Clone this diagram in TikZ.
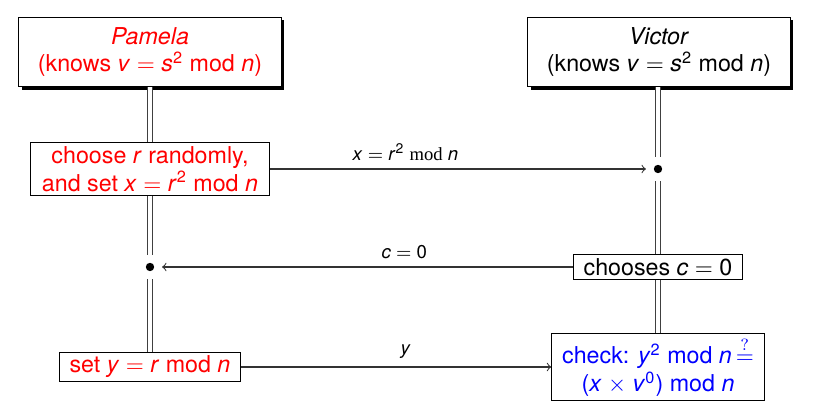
\documentclass[tikz,border=0pt]{standalone}
\usepackage{fontspec}
\setmainfont{TeX Gyre Heros}
\newfontfamily\modfont{Liberation Serif}
\usetikzlibrary{shadows}
\newcommand{\mi}[1]{\textit{#1}}
\newcommand{\eq}{~$=$~}
\newcommand{\qeq}{$\stackrel{?}{=}$}
\begin{document}
\begin{tikzpicture}[x=0.01512cm,y=-0.01512cm,
 box/.style={draw,fill=white,inner xsep=4.5pt,inner ysep=1.5pt,align=center},
 party/.style={box,minimum width=113pt,minimum height=30pt,drop shadow={shadow xshift=1.3pt,shadow yshift=-1.3pt,fill=black,opacity=1}},
 life/.style={draw=black!75,double,double distance=1.3pt,line width=0.45pt},
 dotnode/.style={circle,minimum size=10pt,inner sep=0pt,path picture={\fill[black] (path picture bounding box.center) circle (1.8pt);}},
 msg/.style={->,black!80,line width=0.45pt},
 lbl/.style={font=\footnotesize,above,text=black}]
 \useasboundingbox (0,0) rectangle (835,407);
 \node[party,text=red] (pamela) at (150,52) {\mi{Pamela}\\(knows \mi{v}\eq\mi{s}\textsuperscript{2} mod \mi{n})};
 \node[party] (victor) at (659,52) {\mi{Victor}\\(knows \mi{v}\eq\mi{s}\textsuperscript{2} mod \mi{n})};
 \node[box,text=red,minimum width=103pt] (choose) at (150,169) {choose \mi{r} randomly,\\and set \mi{x}\eq\mi{r}\textsuperscript{2} mod \mi{n}};
 \node[dotnode] (vdot) at (658,169) {};
 \node[dotnode] (pdot) at (150,267) {};
 \node[box] (chooses) at (658,267) {chooses \mi{c}\eq 0};
 \node[box,text=red] (sety) at (150,367) {set \mi{y}\eq\mi{r} mod \mi{n}};
 \node[box,text=blue] (check) at (658,367) {check: \mi{y}\textsuperscript{2} mod \mi{n}\,\qeq\\(\mi{x} $\times$ \mi{v}\textsuperscript{0}) mod \mi{n}};
 \draw[life] (pamela) -- (choose);
 \draw[life] (choose) -- (pdot);
 \draw[life] (pdot) -- (sety);
 \draw[life] (victor.south -| vdot) -- (vdot);
 \draw[life] (vdot) -- (chooses);
 \draw[life] (chooses) -- (check);
 \draw[msg] (choose) -- node[lbl,pos=0.36] {\mi{x}\eq\mi{r}\textsuperscript{2} {\modfont mod} \mi{n}} (vdot);
 \draw[msg] (chooses) -- node[lbl,pos=0.41] {\mi{c}\eq 0} (pdot);
 \draw[msg] (sety) -- node[lbl,pos=0.53] {\mi{y}} (check);
\end{tikzpicture}
\end{document}
